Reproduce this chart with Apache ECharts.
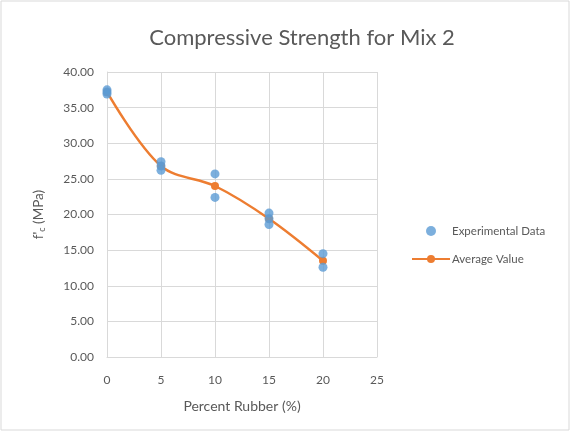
<!DOCTYPE html>
<html><head><meta charset="utf-8">
<script src="https://cdn.jsdelivr.net/npm/echarts@6/dist/echarts.min.js"></script>
<style>html,body{margin:0;padding:0;background:#fff}#c{width:572px;height:432px}</style>
</head><body><div id="c"></div>
<script>
const rubberPct = [0, 5, 10, 15, 20];
const expX = [0, 0, 0, 5, 5, 5, 10, 10, 15, 15, 15, 20, 20];
const expY = [37.5, 37.2, 36.9, 27.4, 26.8, 26.2, 25.7, 22.4, 20.2, 19.4, 18.6, 14.5, 12.6];
const avgY = [37.2, 26.8, 24.0, 19.4, 13.5];
const xTicks = [0, 5, 10, 15, 20, 25];
const yTicks = [0, 5, 10, 15, 20, 25, 30, 35, 40];

const font = 'Lato';
const chart = echarts.init(document.getElementById('c'));
chart.setOption({
  animation: false,
  backgroundColor: '#fff',
  textStyle: {fontFamily: font},
  title: {
    text: 'Compressive Strength for Mix 2',
    left: 297, top: 22, textAlign: 'center',
    textStyle: {fontFamily: font, fontSize: 22, fontWeight: 'normal', color: '#595959'}
  },
  grid: {left: 107, top: 72, right: 195, bottom: 75},
  legend: {
    orient: 'vertical', left: 406, top: 220, itemGap: 16,
    itemWidth: 38, itemHeight: 10,
    textStyle: {fontFamily: font, fontSize: 11.5, color: '#595959', padding: [0, 0, 0, -3]},
    data: [
      {name: 'Experimental Data', icon: 'circle', itemStyle: {color: '#5b9bd5'}},
      {name: 'Average Value'}
    ]
  },
  xAxis: {
    type: 'value', min: 0, max: 25, interval: 5,
    name: 'Percent Rubber (%)', nameLocation: 'middle', nameGap: 42,
    nameTextStyle: {fontFamily: font, fontSize: 14, color: '#595959'},
    axisLine: {show: true, lineStyle: {color: '#d9d9d9'}},
    axisTick: {show: false},
    axisLabel: {fontFamily: font, fontSize: 12, color: '#595959', margin: 17},
    splitLine: {show: true, lineStyle: {color: '#d9d9d9'}}
  },
  yAxis: {
    type: 'value', min: 0, max: 40, interval: 5,
    name: "{a|f'}{s|c}{a| (MPa)}", nameLocation: 'middle', nameGap: 60, nameRotate: 90,
    nameTextStyle: {rich: {
      a: {fontFamily: font, fontSize: 13.5, color: '#595959'},
      s: {fontFamily: font, fontSize: 9, color: '#595959', verticalAlign: 'bottom', padding: [7, 0, 0, 0]}
    }},
    axisLine: {show: true, lineStyle: {color: '#d9d9d9'}},
    axisTick: {show: false},
    axisLabel: {fontFamily: font, fontSize: 12, color: '#595959', margin: 13,
      formatter: v => v.toFixed(2)},
    splitLine: {show: true, lineStyle: {color: '#d9d9d9'}}
  },
  series: [
    {
      name: 'Experimental Data', type: 'scatter', symbolSize: 9,
      itemStyle: {color: '#5b9bd5'}, z: 3,
      data: expX.map((x, i) => [x, expY[i]])
    },
    {
      name: 'Average Value', type: 'line', smooth: 0.35,
      symbol: 'circle', symbolSize: 8, z: 2,
      lineStyle: {color: '#ed7d31', width: 2.5},
      itemStyle: {color: '#ed7d31'},
      data: rubberPct.map((x, i) => [x, avgY[i]])
    }
  ],
  graphic: [{
    type: 'rect', shape: {x: 1, y: 1, width: 568, height: 429},
    style: {fill: null, stroke: '#d9d9d9', lineWidth: 1}, silent: true
  }]
});
</script></body></html>
